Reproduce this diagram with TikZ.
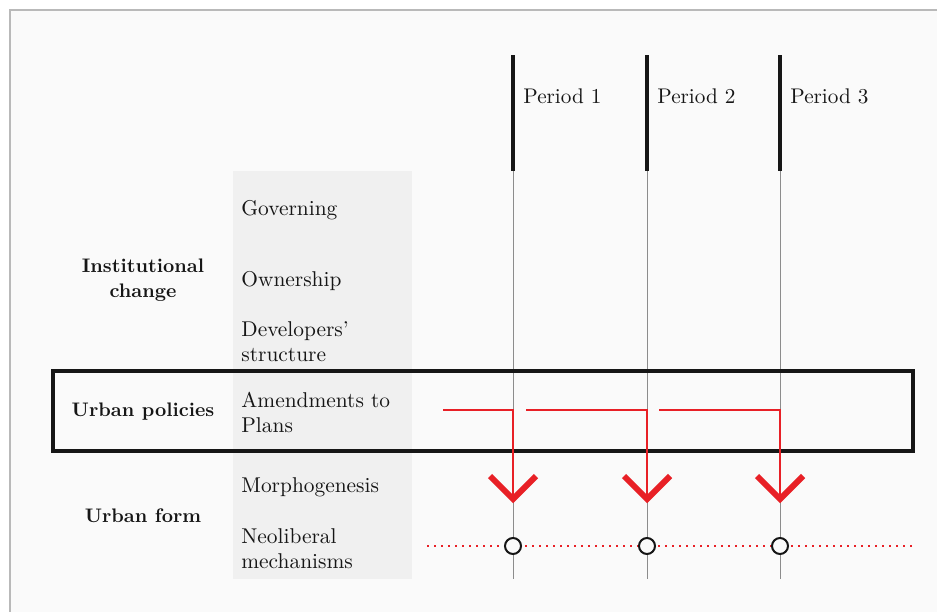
\documentclass[tikz,border=0pt]{standalone}
\usepackage{tikz}
\usepackage{xcolor}
\definecolor{policyred}{RGB}{232,32,38}
\definecolor{inkblack}{RGB}{22,22,22}
\definecolor{rulegray}{RGB}{140,140,140}
\definecolor{framegray}{RGB}{185,185,185}
\definecolor{columngray}{RGB}{240,240,240}
\definecolor{paper}{RGB}{250,250,250}

\begin{document}
\begin{tikzpicture}[x=0.5pt, y=-0.5pt,
    rowtext/.style={anchor=west, align=left, inner sep=0pt, text=inkblack, font=\fontsize{10.7}{12.5}\selectfont},
    grouptext/.style={align=center, inner sep=0pt, text=inkblack, font=\bfseries\fontsize{9.8}{12.5}\selectfont},
    periodtext/.style={anchor=west, inner sep=0pt, text=inkblack, font=\fontsize{10.6}{12.5}\selectfont},
    periodbar/.style={draw=inkblack, line width=2pt},
    periodrule/.style={draw=rulegray, line width=0.5pt},
    policyline/.style={draw=policyred, line width=0.8pt},
    chevron/.style={draw=policyred, line width=3pt, miter limit=10},
    dotline/.style={draw=policyred, line width=1pt, dash pattern=on 1pt off 2.5pt},
    stagedot/.style={circle, draw=inkblack, line width=1pt, fill=paper, minimum size=8pt, inner sep=0pt}]
    % Page and frame
    \useasboundingbox (0,0) rectangle (937,611);
    \fill[white] (0,0) rectangle (937,611);
    \draw[framegray, fill=paper, line width=0.6pt] (10,10) rectangle (960,640);
    \fill[columngray] (233,171) rectangle (412,579);

    % Period axes
    \coordinate (p1top) at (513,55);  \coordinate (p1mid) at (513,171);  \coordinate (p1bot) at (513,579);
    \coordinate (p2top) at (647,55);  \coordinate (p2mid) at (647,171);  \coordinate (p2bot) at (647,579);
    \coordinate (p3top) at (780,55);  \coordinate (p3mid) at (780,171);  \coordinate (p3bot) at (780,579);
    \draw[periodrule] (p1mid) -- (p1bot);
    \draw[periodrule] (p2mid) -- (p2bot);
    \draw[periodrule] (p3mid) -- (p3bot);
    \draw[periodbar] (p1top) -- (p1mid);
    \draw[periodbar] (p2top) -- (p2mid);
    \draw[periodbar] (p3top) -- (p3mid);
    \node[periodtext] (period1) at (523,96) {Period 1};
    \node[periodtext] (period2) at (657,96) {Period 2};
    \node[periodtext] (period3) at (790,96) {Period 3};

    % Urban policies frame
    \draw[inkblack, line width=1.8pt] (53,371) rectangle (913,451);

    % Row labels
    \node[rowtext] (governing) at (241,210) {Governing};
    \node[rowtext] (ownership) at (241,281) {Ownership};
    \node[rowtext] (developers) at (241,342) {Developers’\\structure};
    \node[rowtext] (amendments) at (241,412) {Amendments to\\Plans};
    \node[rowtext] (morpho) at (241,487) {Morphogenesis};
    \node[rowtext] (neoliberal) at (241,549) {Neoliberal\\mechanisms};

    % Group labels
    \node[grouptext] (institutional) at (143,280) {Institutional\\change};
    \node[grouptext] (policies) at (143,412) {Urban policies};
    \node[grouptext] (form) at (143,516) {Urban form};

    % Neoliberal mechanisms timeline
    \coordinate (dotL) at (427,546);
    \coordinate (dotR) at (913,546);
    \draw[dotline] (dotL) -- (dotR);

    % Amendments acting on each period
    \coordinate (r1) at (443,410);  \coordinate (t1) at (513,499);
    \coordinate (r2) at (526,410);  \coordinate (t2) at (647,499);
    \coordinate (r3) at (659,410);  \coordinate (t3) at (780,499);
    \draw[policyline] (r1) -| (t1);
    \draw[policyline] (r2) -| (t2);
    \draw[policyline] (r3) -| (t3);
    \draw[chevron] (t1) ++(-23,-23) -- (t1) -- ++(23,-23);
    \draw[chevron] (t2) ++(-23,-23) -- (t2) -- ++(23,-23);
    \draw[chevron] (t3) ++(-23,-23) -- (t3) -- ++(23,-23);

    % Stage markers
    \node[stagedot] (s1) at (513,546) {};
    \node[stagedot] (s2) at (647,546) {};
    \node[stagedot] (s3) at (780,546) {};
\end{tikzpicture}
\end{document}
